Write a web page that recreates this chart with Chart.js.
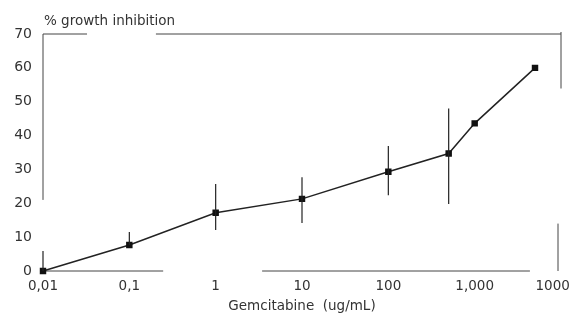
<!DOCTYPE html>
<html>
<head>
<meta charset="utf-8">
<script src="https://cdn.jsdelivr.net/npm/chart.js@4"></script>
<style>
  html, body { margin: 0; padding: 0; background: #fff; }
  #wrap { width: 574px; height: 324px; position: relative; }
</style>
</head>
<body>
<div id="wrap"><canvas id="growthChart"></canvas></div>
<script>
// concentration (ug/mL) and % growth inhibition
const doses = [0.01, 0.1, 1, 10, 100, 500, 1000, 5000];
const inhibition = [0, 7.7, 17.2, 21.3, 29.3, 34.7, 43.6, 60];
// error bar ends (null = no bar drawn)
const errHigh = [5.9, 11.5, 25.7, 27.7, 36.9, 48, null, null];
const errLow = [0, 7.7, 12.1, 14.2, 22.4, 19.8, null, null];
// the last label of the original sits a little inside the right edge
const xTickValues = [0.01, 0.1, 1, 10, 100, 1000, 8000];
const xTickLabels = ['0,01', '0,1', '1', '10', '100', '1,000', '1000'];
const yTicks = [0, 10, 20, 30, 40, 50, 60, 70];

const fontFamily = '"DejaVu Sans", sans-serif';

// the scanned frame is broken in places, so draw it piecewise
const framePlugin = {
  id: 'frame',
  beforeDatasetsDraw(chart) {
    const { ctx, chartArea: a } = chart;
    const w = a.right - a.left, h = a.bottom - a.top;
    ctx.save();
    ctx.strokeStyle = '#444';
    ctx.lineWidth = 1;
    const seg = (x1, y1, x2, y2) => {
      ctx.beginPath(); ctx.moveTo(x1, y1); ctx.lineTo(x2, y2); ctx.stroke();
    };
    // top
    seg(a.left, a.top, a.left + w * 0.085, a.top);
    seg(a.left + w * 0.218, a.top, a.right, a.top);
    // left
    seg(a.left, a.top, a.left, a.top + h * 0.70);
    // right
    seg(a.right, a.top - 2, a.right, a.top + h * 0.23);
    seg(a.right - 3, a.top + h * 0.80, a.right - 3, a.bottom);
    // bottom
    seg(a.left, a.bottom, a.left + w * 0.232, a.bottom);
    seg(a.left + w * 0.423, a.bottom, a.left + w * 0.94, a.bottom);
    ctx.restore();
  }
};

const errorBarPlugin = {
  id: 'errorBars',
  afterDatasetsDraw(chart) {
    const { ctx, scales } = chart;
    ctx.save();
    ctx.strokeStyle = '#222';
    ctx.lineWidth = 1.2;
    doses.forEach((d, i) => {
      if (errHigh[i] == null) return;
      const x = scales.x.getPixelForValue(d);
      ctx.beginPath();
      ctx.moveTo(x, scales.y.getPixelForValue(errHigh[i]));
      ctx.lineTo(x, scales.y.getPixelForValue(errLow[i]));
      ctx.stroke();
    });
    ctx.restore();
  }
};

const topLabelPlugin = {
  id: 'topLabel',
  afterDraw(chart) {
    const { ctx, chartArea: a } = chart;
    ctx.save();
    ctx.fillStyle = '#333';
    ctx.font = '13.5px ' + fontFamily;
    ctx.textBaseline = 'alphabetic';
    ctx.fillText('% growth inhibition', a.left + 1, 25);
    ctx.restore();
  }
};

new Chart(document.getElementById('growthChart').getContext('2d'), {
  type: 'line',
  data: {
    datasets: [{
      data: doses.map((d, i) => ({ x: d, y: inhibition[i] })),
      borderColor: '#222',
      borderWidth: 1.5,
      pointStyle: 'rect',
      pointRadius: 3.5,
      pointBackgroundColor: '#111',
      pointBorderColor: '#111',
      tension: 0,
      clip: false
    }]
  },
  options: {
    responsive: true,
    maintainAspectRatio: false,
    animation: false,
    layout: { padding: { top: 34, right: 13, left: 0, bottom: 5 } },
    plugins: {
      legend: { display: false },
      tooltip: { enabled: false }
    },
    scales: {
      x: {
        type: 'logarithmic',
        min: 0.01,
        max: 10000,
        grid: { display: false, drawTicks: false },
        border: { display: false },
        afterBuildTicks(scale) {
          scale.ticks = xTickValues.map(v => ({ value: v }));
        },
        afterFit(scale) {
          scale.height = 48;
          scale.paddingLeft = 0;
          scale.paddingRight = 0;
        },
        ticks: {
          autoSkip: false,
          maxRotation: 0,
          padding: 7,
          color: '#333',
          font: { family: fontFamily, size: 13.5 },
          callback: (v, i) => xTickLabels[i]
        },
        title: {
          display: true,
          text: 'Gemcitabine  (ug/mL)',
          color: '#333',
          font: { family: fontFamily, size: 13.5 },
          padding: { top: 0 }
        }
      },
      y: {
        min: 0,
        max: 70,
        grid: { display: false, drawTicks: false },
        border: { display: false },
        afterBuildTicks(scale) {
          scale.ticks = yTicks.map(v => ({ value: v }));
        },
        afterFit(scale) { scale.width = 43; },
        ticks: {
          padding: 11,
          color: '#333',
          font: { family: fontFamily, size: 14 }
        }
      }
    }
  },
  plugins: [framePlugin, errorBarPlugin, topLabelPlugin]
});
</script>
</body>
</html>
